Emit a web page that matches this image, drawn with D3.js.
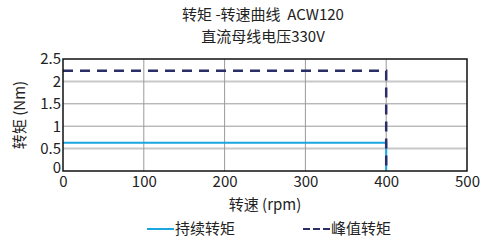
<!DOCTYPE html>
<html>
<head>
<meta charset="utf-8">
<script src="https://cdn.jsdelivr.net/npm/d3@7"></script>
<style>
  body { margin: 0; background: #fff; }
  text { font-family: "Noto Sans CJK SC", "Noto Sans", sans-serif; fill: #222; }
</style>
</head>
<body>
<svg id="chart" width="487" height="243"></svg>
<script>
// chart data
var titleLines = ["转矩 -转速曲线  ACW120", "直流母线电压330V"];
var xTicks = [0, 100, 200, 300, 400, 500];
var yTicks = [0, 0.5, 1, 1.5, 2, 2.5];
var contSpeed = [0, 400, 400];
var contTorque = [0.63, 0.63, 0];
var peakSpeed = [0, 400, 400];
var peakTorque = [2.24, 2.24, 0];
var legendNames = ["持续转矩", "峰值转矩"];

var svg = d3.select("#chart");
// plot box (don't call it "top", that's window.top)
var plotLeft = 63, plotRight = 467, plotTop = 59, plotBottom = 171;
var fontSize = "15px";

var x = d3.scaleLinear().domain([0, 500]).range([plotLeft, plotRight]);
var y = d3.scaleLinear().domain([0, 2.5]).range([plotBottom, plotTop]);

// titles
svg.selectAll("text.title")
  .data(titleLines)
  .enter()
  .append("text")
    .attr("x", 263)
    .attr("y", function(d, i) { return 20 + i * 22; })
    .attr("text-anchor", "middle")
    .style("font-size", fontSize)
    .style("white-space", "pre")
    .text(function(d) { return d; });

// grid - 0.5 and 2 lines look lighter and thicker than the others
svg.selectAll("line.hgrid")
  .data(yTicks.slice(1, -1))
  .enter()
  .append("line")
    .attr("x1", plotLeft).attr("x2", plotRight)
    .attr("y1", function(d) { return y(d); })
    .attr("y2", function(d) { return y(d); })
    .style("stroke", function(d) { return (d == 0.5 || d == 2) ? "#c8c8c8" : "#9a9a9a"; })
    .style("stroke-width", function(d) { return (d == 0.5 || d == 2) ? 2 : 1; });

svg.selectAll("line.vgrid")
  .data(xTicks.slice(1, -1))
  .enter()
  .append("line")
    .attr("y1", plotTop).attr("y2", plotBottom)
    .attr("x1", function(d) { return x(d); })
    .attr("x2", function(d) { return x(d); })
    .style("stroke", "#9a9a9a")
    .style("stroke-width", 1);

// curves
var line = d3.line()
  .x(function(d) { return x(d[0]); })
  .y(function(d) { return y(d[1]); });

svg.append("path")
  .datum(d3.zip(contSpeed, contTorque))
  .attr("d", line)
  .style("fill", "none")
  .style("stroke", "#1aa7e0")
  .style("stroke-width", 2);

svg.append("path")
  .datum(d3.zip(peakSpeed, peakTorque))
  .attr("d", line)
  .style("fill", "none")
  .style("stroke", "#2b2d66")
  .style("stroke-width", 2.5)
  .style("stroke-dasharray", "10,7");

// frame
svg.append("rect")
  .attr("x", plotLeft).attr("y", plotTop)
  .attr("width", plotRight - plotLeft).attr("height", plotBottom - plotTop)
  .style("fill", "none")
  .style("stroke", "#111")
  .style("stroke-width", 1.5);

// axes tick labels
var xAxis = svg.append("g")
  .attr("transform", "translate(0," + plotBottom + ")")
  .call(d3.axisBottom(x).tickValues(xTicks).tickSize(0).tickPadding(5));
var yAxis = svg.append("g")
  .attr("transform", "translate(" + plotLeft + ",0)")
  .call(d3.axisLeft(y).tickValues(yTicks).tickFormat(d3.format("~g")).tickSize(0).tickPadding(2));
[xAxis, yAxis].forEach(function(g) {
  g.select(".domain").remove();
  g.selectAll("text").style("font-size", fontSize).style("font-family", "\"Noto Sans CJK SC\", sans-serif").style("fill", "#222");
});
// nudge the y "0" up a bit so it doesn't sit on the x "0"
yAxis.selectAll(".tick text").filter(function(d) { return d === 0; }).attr("dy", "0.1em");

// axis titles
svg.append("text")
  .attr("x", x(250)).attr("y", 210)
  .attr("text-anchor", "middle")
  .style("font-size", fontSize)
  .text("转速 (rpm)");

svg.append("text")
  .attr("transform", "translate(25," + y(1.25) + ") rotate(-90)")
  .attr("text-anchor", "middle")
  .style("font-size", fontSize)
  .text("转矩 (Nm)");

// legend
var legend = svg.selectAll("g.legend")
  .data(legendNames)
  .enter()
  .append("g")
    .attr("transform", function(d, i) { return "translate(" + (147 + i * 156) + ",234)"; });

legend.append("line")
  .attr("x1", 0).attr("x2", 27).attr("y1", -5).attr("y2", -5)
  .style("stroke", function(d, i) { return i == 0 ? "#1aa7e0" : "#2b2d66"; })
  .style("stroke-width", 2)
  .style("stroke-dasharray", function(d, i) { return i == 0 ? null : "7,3"; });

legend.append("text")
  .attr("x", 28)
  .style("font-size", fontSize)
  .text(function(d) { return d; });
</script>
</body>
</html>
